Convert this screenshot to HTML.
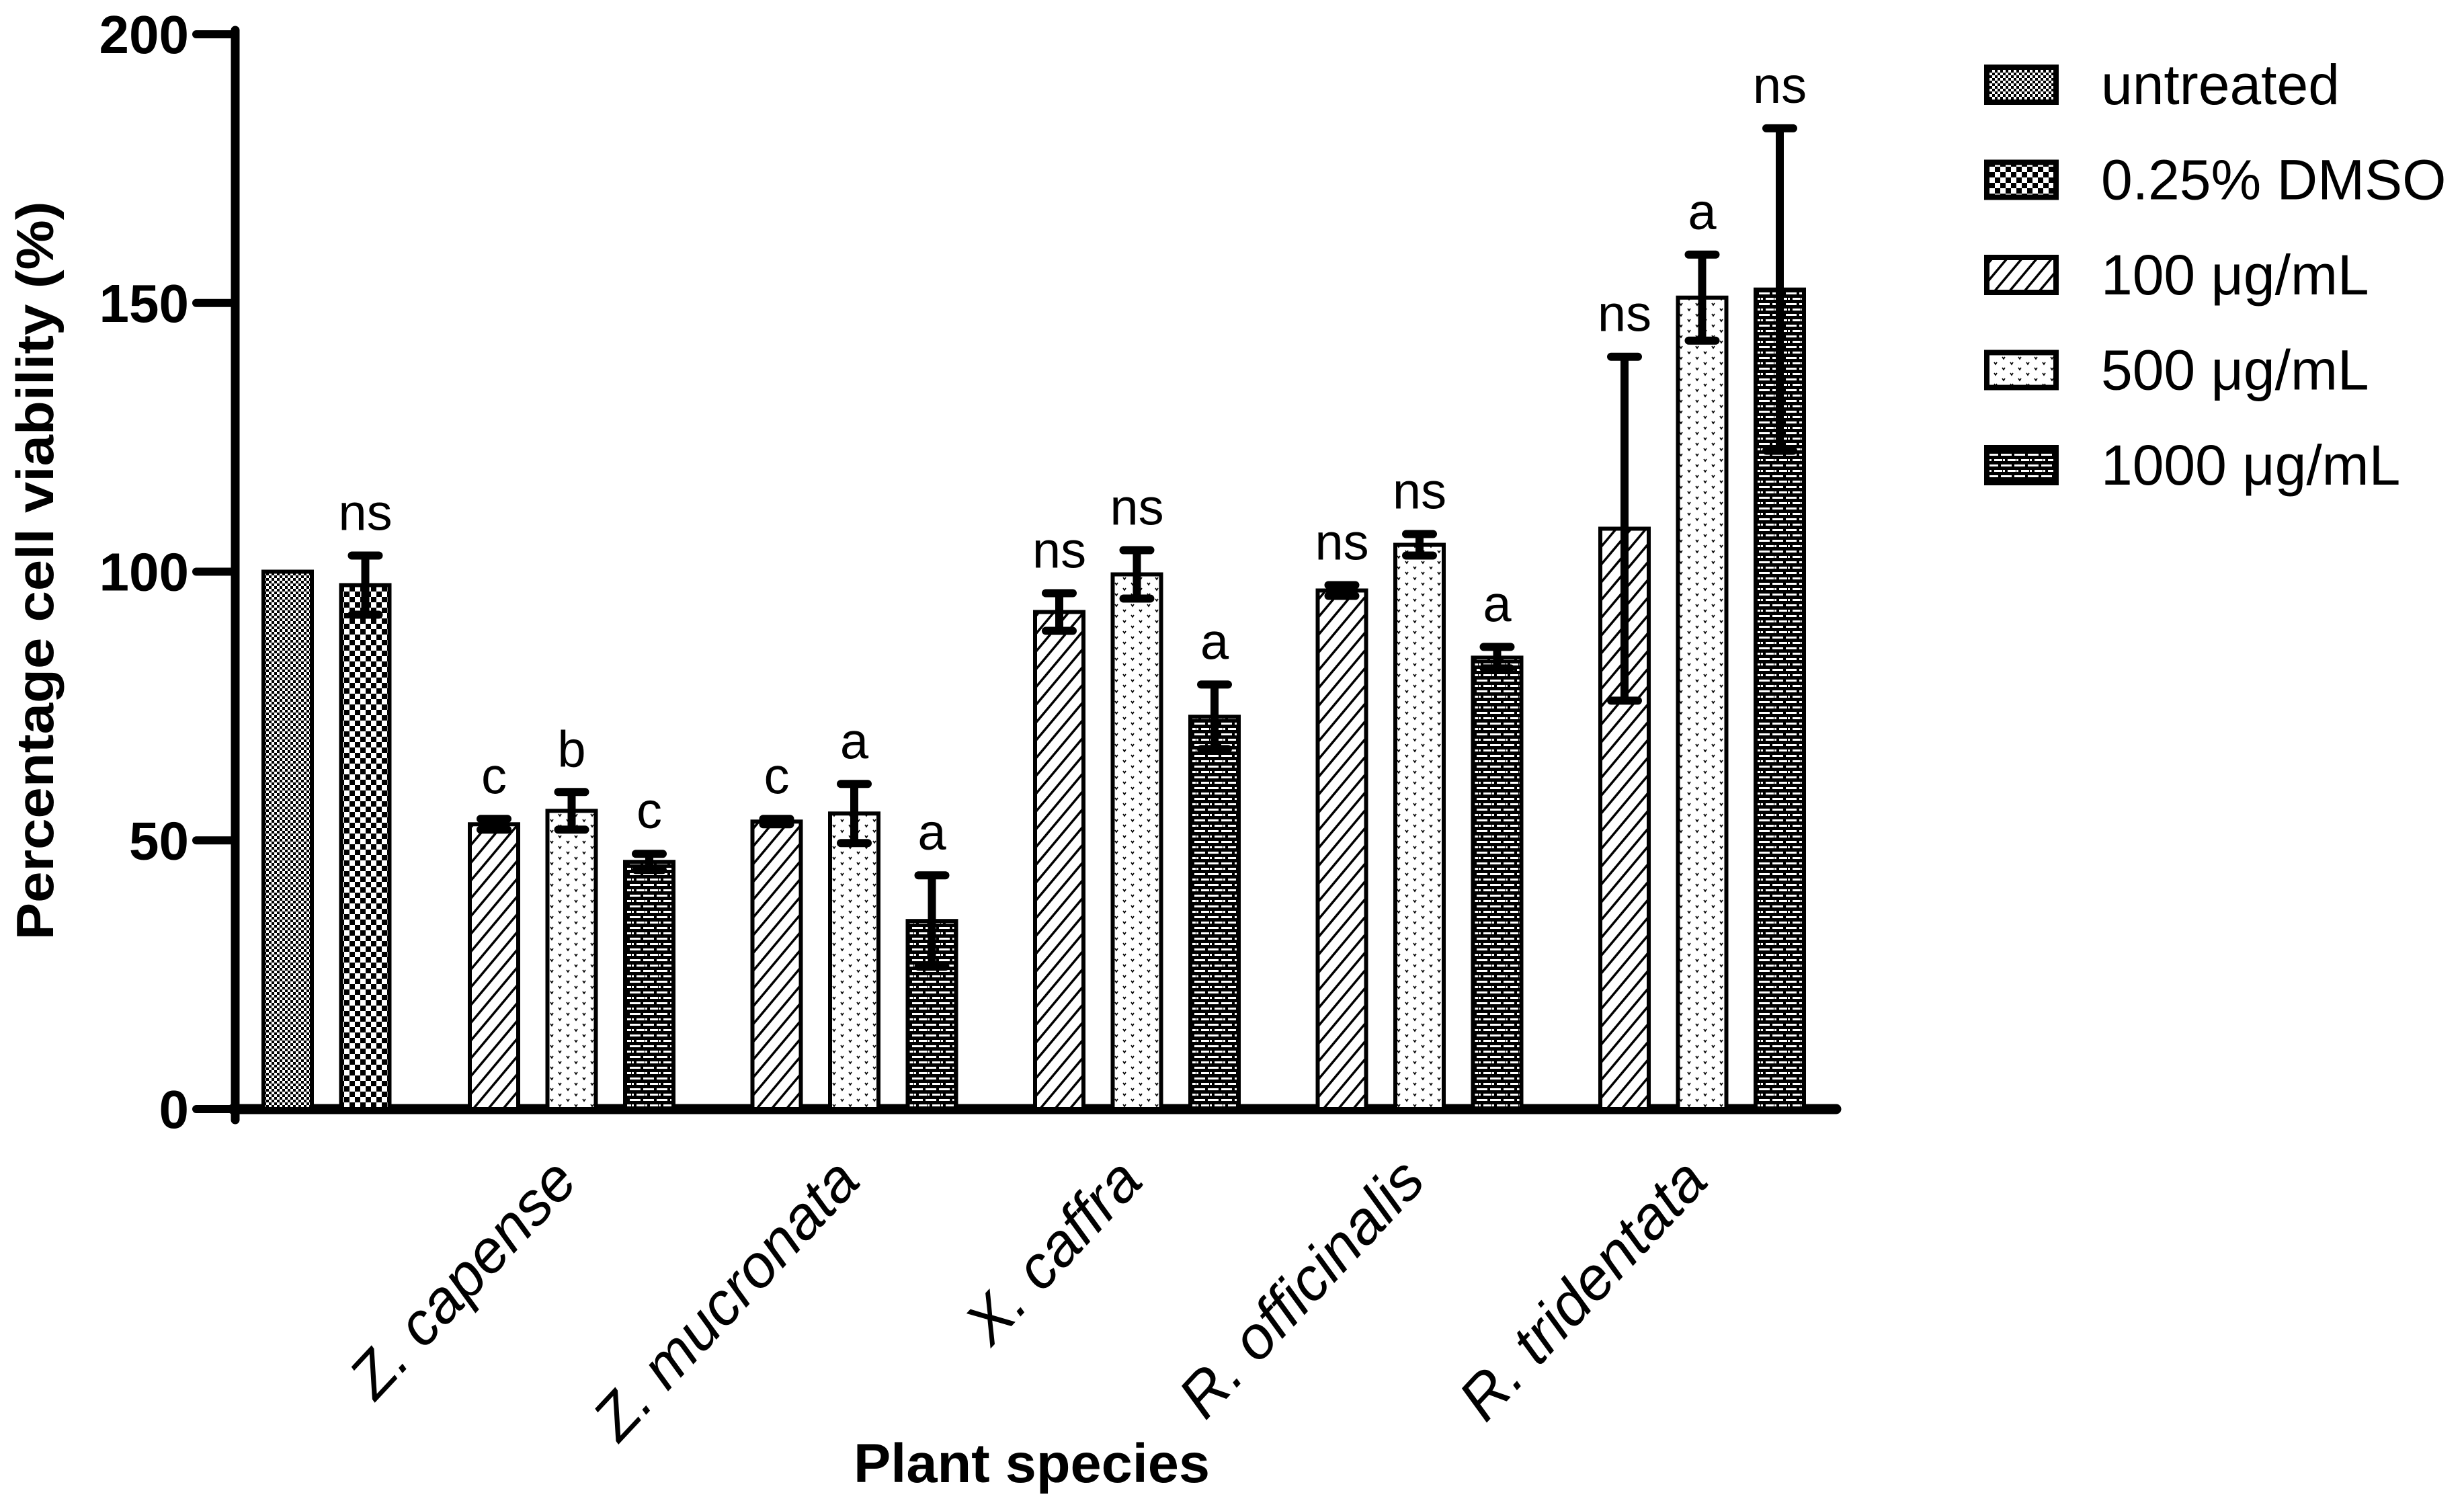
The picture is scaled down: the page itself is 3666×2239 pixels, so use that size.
<!DOCTYPE html>
<html><head><meta charset="utf-8"><style>
html,body{margin:0;padding:0;background:#fff;}
svg{display:block;}
text{font-family:"Liberation Sans",Arial,sans-serif;}
</style></head><body>
<svg id="chart" width="3666" height="2239" viewBox="0 0 3666 2239" xmlns="http://www.w3.org/2000/svg">
<defs>
<pattern id="p-untreated" width="8" height="8" patternUnits="userSpaceOnUse">
<rect width="8" height="8" fill="#fff"/><rect width="4" height="4" fill="#000"/><rect x="4" y="4" width="4" height="4" fill="#000"/></pattern>
<pattern id="p-dmso" width="16" height="16" patternUnits="userSpaceOnUse">
<rect width="16" height="16" fill="#fff"/><rect width="8" height="8" fill="#000"/><rect x="8" y="8" width="8" height="8" fill="#000"/></pattern>
<pattern id="p-100" width="17" height="17" patternUnits="userSpaceOnUse" patternTransform="rotate(40)">
<rect width="17" height="17" fill="#fff"/><rect width="3.5" height="17" fill="#000"/></pattern>
<pattern id="p-500" width="24" height="16" patternUnits="userSpaceOnUse">
<rect width="24" height="16" fill="#fff"/>
<path d="M3 3 L5 6 L7 3 M15 11 L17 14 L19 11" stroke="#000" stroke-width="1.6" fill="none"/></pattern>
<pattern id="p-1000" width="20" height="16" patternUnits="userSpaceOnUse">
<rect width="20" height="16" fill="#000"/>
<rect x="0" y="3" width="13" height="3" fill="#fff"/><rect x="17" y="3" width="3" height="3" fill="#fff"/>
<rect x="0" y="11" width="3" height="3" fill="#fff"/><rect x="7" y="11" width="12" height="3" fill="#fff"/></pattern>
</defs>
<g id="axes"></g>
<g id="bars"></g>
<g id="legend"></g>
<text transform="translate(79,849) rotate(-90)" text-anchor="middle" font-size="78" font-weight="bold" textLength="1099" lengthAdjust="spacingAndGlyphs">Percentage cell viability (%)</text>
<text x="1535" y="2205" text-anchor="middle" font-size="82" font-weight="bold" textLength="530" lengthAdjust="spacingAndGlyphs">Plant species</text>
</svg>
<script>
const groups = ["Z. capense","Z. mucronata","X. caffra","R. officinalis","R. tridentata"];
const controlNames = ["untreated","0.25% DMSO"];
const controlVals = [100, 97.5];
const controlErr = [0, 5.5];
const controlLabels = ["", "ns"];
const v100 = [53, 53.5, 92.5, 96.5, 108];
const e100 = [1, 0.5, 3.5, 1, 32];
const v500 = [55.5, 55, 99.5, 105, 151];
const e500 = [3.5, 5.5, 4.5, 2, 8];
const v1000 = [46, 35, 73, 84, 152.5];
const e1000 = [1.5, 8.5, 6, 2, 30];
const l100 = ["c","c","ns","ns","ns"];
const l500 = ["b","a","ns","ns","a"];
const l1000 = ["c","a","a","a","ns"];
const yTicks = [0, 50, 100, 150, 200];
const legendNames = ["untreated","0.25% DMSO","100 \u03bcg/mL","500 \u03bcg/mL","1000 \u03bcg/mL"];

const NS = "http://www.w3.org/2000/svg";
const X0 = 350, Y0 = 1650, YTOP = 51;
function y(v){ return Y0 - v * (Y0 - YTOP) / 200; }
function groupX(g, k){ return 699 + g * 420.5 + k * 115.5; }
function controlX(k){ return 392 + k * 115.5; }
const BW = 72;
function el(tag, attrs, parent){
  const e = document.createElementNS(NS, tag);
  for (const k in attrs) e.setAttribute(k, attrs[k]);
  parent.appendChild(e); return e;
}
const axes = document.getElementById("axes");
const bars = document.getElementById("bars");
const legend = document.getElementById("legend");

let a = el("line", {x1:X0, y1:YTOP-6, x2:X0, y2:Y0+16, stroke:"#000","stroke-width":13,"stroke-linecap":"round"}, axes);


a = el("line", {x1:X0-4, y1:Y0, x2:2732, y2:Y0, stroke:"#000","stroke-width":15,"stroke-linecap":"round"}, axes);


yTicks.forEach(t => {
  const tk = el("line", {x1:292, y1:y(t), x2:X0, y2:y(t), stroke:"#000","stroke-width":12,"stroke-linecap":"round"}, axes);
  
  
  const tl = el("text", {x:281, y:y(t)+28, "text-anchor":"end","font-size":80,"font-weight":"bold"}, axes);
  tl.textContent = t;
  
  
});

function drawBar(x, v, err, pat, lab, name){
  const top = y(v);
  const r = el("rect", {x:x, y:top, width:BW, height:Y0-top, fill:"url(#"+pat+")", stroke:"#000","stroke-width":6}, bars);
  
  
  const cx = x + BW/2;
  let et = top;
  if (err > 0){
    et = y(v+err); const eb = y(v-err);
    const eg = el("g", {}, bars);
    
    
    el("line", {x1:cx, y1:et, x2:cx, y2:eb, stroke:"#000","stroke-width":12}, eg);
    el("line", {x1:cx-20, y1:et, x2:cx+20, y2:et, stroke:"#000","stroke-width":12,"stroke-linecap":"round"}, eg);
    el("line", {x1:cx-20, y1:eb, x2:cx+20, y2:eb, stroke:"#000","stroke-width":12,"stroke-linecap":"round"}, eg);
  }
  if (lab){
    const t = el("text", {x:cx, y:et-38, "text-anchor":"middle","font-size":76}, bars);
    t.textContent = lab;
    
    
  }
}
drawBar(controlX(0), controlVals[0], controlErr[0], "p-untreated", controlLabels[0], "bar-untreated");
drawBar(controlX(1), controlVals[1], controlErr[1], "p-dmso", controlLabels[1], "bar-dmso");
groups.forEach((g, i) => {
  drawBar(groupX(i,0), v100[i], e100[i], "p-100", l100[i], "bar-100");
  drawBar(groupX(i,1), v500[i], e500[i], "p-500", l500[i], "bar-500");
  drawBar(groupX(i,2), v1000[i], e1000[i], "p-1000", l1000[i], "bar-1000");
  const cx = groupX(i,1) + BW/2;
  const t = el("text", {transform:"translate("+(cx+12)+",1760) rotate(-47)", "text-anchor":"end","font-size":90,"font-style":"italic"}, axes);
  t.textContent = g;
  
  
});

const pats = ["p-untreated","p-dmso","p-100","p-500","p-1000"];
legendNames.forEach((n, i) => {
  const ly = 97 + i * 141.5;
  const g = el("g", {}, legend);
  
  
  el("rect", {x:2956, y:ly+3, width:103, height:52, fill:"url(#"+pats[i]+")", stroke:"#000","stroke-width":8}, g);
  const t = el("text", {x:3126, y:ly+58, "font-size":84}, g);
  t.textContent = n;
});
</script>
</body></html>
